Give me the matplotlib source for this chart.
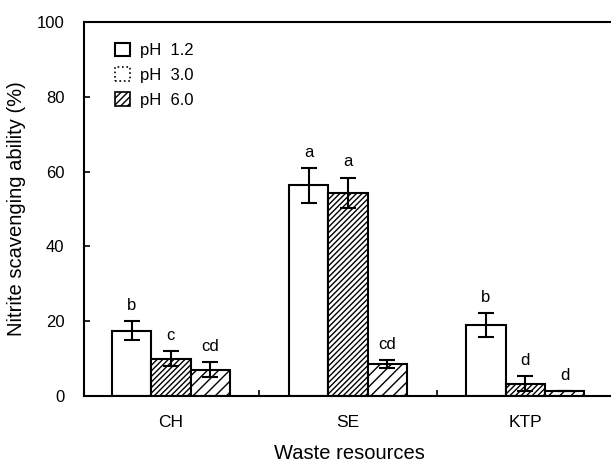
import numpy as np
import matplotlib
matplotlib.use("Agg")
import matplotlib.pyplot as plt
from matplotlib.patches import Patch

plt.rcParams["font.family"] = ["Liberation Sans", "DejaVu Sans"]
plt.rcParams["hatch.linewidth"] = 1.0

# data
categories = ["CH", "SE", "KTP"]
series_labels = ["pH  1.2", "pH  3.0", "pH  6.0"]
ph12 = [17.5, 56.3, 19.0]
ph30 = [9.9, 54.3, 3.3]
ph60 = [7.0, 8.5, 1.3]
err12 = [2.6, 4.6, 3.2]
err30 = [2.0, 4.1, 2.0]
err60 = [2.0, 1.1, 0.0]
letters12 = ["b", "a", "b"]
letters30 = ["c", "a", "d"]
letters60 = ["cd", "cd", "d"]

hatches = ["", "//////", "///"]

fig = plt.figure(figsize=(6.11, 4.66), dpi=100)
ax = fig.add_axes([84 / 611, 70 / 466, 530 / 611, 374 / 466])

x = np.arange(len(categories))
w = 0.222
values = [ph12, ph30, ph60]
errors = [err12, err30, err60]
letters = [letters12, letters30, letters60]

for i, (vals, errs, labs) in enumerate(zip(values, errors, letters)):
    pos = x + (i - 1) * w
    ax.bar(pos, vals, width=w, color="white", edgecolor="black",
           linewidth=1.5, hatch=hatches[i], zorder=2)
    ax.errorbar(pos, vals, yerr=errs, fmt="none", ecolor="black",
                elinewidth=1.5, capsize=6, capthick=1.5, zorder=3)
    for p, v, e, t in zip(pos, vals, errs, labs):
        ax.text(p, v + e + 2.2, t, ha="center", va="bottom", fontsize=12)

ax.set_xlim(-0.49, 2.5)
ax.set_ylim(0, 100)
ax.set_yticks([0, 20, 40, 60, 80, 100])
ax.set_xticks(x)
ax.set_xticklabels(categories)
ax.set_xticks([0.5, 1.5], minor=True)
ax.tick_params(axis="x", which="major", length=0, labelsize=12.5, pad=14)
ax.tick_params(axis="x", which="minor", direction="in", length=4, width=1.2)
ax.tick_params(axis="y", direction="in", length=4, width=1.2, labelsize=12, pad=14)

ax.spines["right"].set_visible(False)
for s in ["left", "bottom", "top"]:
    ax.spines[s].set_linewidth(1.5)

ax.set_xlabel("Waste resources", fontsize=14.5, labelpad=10)
ax.set_ylabel("Nitrite scavenging ability (%)", fontsize=14.5, labelpad=8)

# legend boxes as they look in the scan: pH 3.0 shows as a plain box
handles = [
    Patch(facecolor="white", edgecolor="black", linewidth=1.5),
    Patch(facecolor="white", edgecolor="black", linewidth=1.2, linestyle=":"),
    Patch(facecolor="white", edgecolor="black", linewidth=1.2, hatch="/////"),
]
ax.legend(handles, series_labels, loc="upper left",
          bbox_to_anchor=(0.03, 0.985), frameon=False, fontsize=12,
          handlelength=0.9, handleheight=0.9, handletextpad=0.6,
          labelspacing=0.55)

fig.savefig("out.png", dpi=100)
